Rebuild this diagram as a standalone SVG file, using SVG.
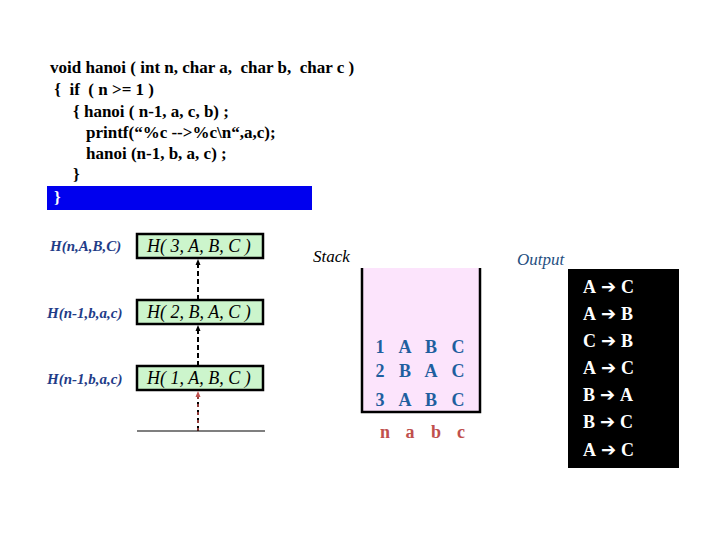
<svg xmlns="http://www.w3.org/2000/svg" width="720" height="540" viewBox="0 0 720 540">
<style>
.code{font-family:"Liberation Serif",serif;font-size:17px;font-weight:bold;fill:#000;white-space:pre}
.lbl{font-family:"Liberation Serif",serif;font-size:15px;font-weight:bold;font-style:italic;fill:#1f3c88}
.box{fill:#ccf5cc;stroke:#000;stroke-width:2.5}
.bt{font-family:"Liberation Serif",serif;font-size:18px;font-style:italic;fill:#000;white-space:pre}
.st{font-family:"Liberation Serif",serif;font-size:18px;font-weight:bold;fill:#1f5f9f;text-anchor:middle}
.rd{font-family:"Liberation Serif",serif;font-size:18px;font-weight:bold;fill:#c0504d;text-anchor:middle}
.out{font-family:"Liberation Serif",serif;font-size:18px;font-weight:bold;fill:#fff}
.arr{font-family:"DejaVu Sans",sans-serif;font-size:18px;font-weight:bold}
.dash{stroke:#000;stroke-width:2;stroke-dasharray:5,3;fill:none}
</style>
<defs>
<marker id="ah" markerUnits="userSpaceOnUse" markerWidth="6" markerHeight="6" refX="5" refY="3" orient="auto"><path d="M0,0.5 L6,3 L0,5.5 z" fill="#000"/></marker>
<marker id="ahr" markerUnits="userSpaceOnUse" markerWidth="6" markerHeight="6" refX="5" refY="3" orient="auto"><path d="M0,0.5 L6,3 L0,5.5 z" fill="#c0504d"/></marker>
</defs>
<g id="code">
<text class="code" x="50" y="73">void hanoi ( int n, char a,  char b,  char c )</text>
<text class="code" x="50" y="95"> {  if  ( n &gt;= 1 )</text>
<text class="code" x="73" y="117">{ hanoi ( n-1, a, c, b) ;</text>
<text class="code" x="86" y="138">printf(“%c --&gt;%c\n“,a,c);</text>
<text class="code" x="86" y="159">hanoi (n-1, b, a, c) ;</text>
<text class="code" x="73" y="180">}</text>
<rect x="47" y="186" width="265" height="24" fill="#0000ee"/>
<text class="code" x="54" y="203" style="fill:#fff">}</text>
</g>
<g id="node1">
<text class="lbl" x="50" y="251">H(n,A,B,C)</text>
<rect class="box" x="137" y="234" width="126" height="24"/>
<text class="bt" x="147" y="252">H( 3, A, B, C )</text>
</g>
<g id="node2">
<text class="lbl" x="47" y="318">H(n-1,b,a,c)</text>
<rect class="box" x="137" y="300" width="126" height="24"/>
<text class="bt" x="147" y="318">H( 2, B, A, C )</text>
</g>
<g id="node3">
<text class="lbl" x="47" y="384">H(n-1,b,a,c)</text>
<rect class="box" x="137" y="366" width="126" height="24"/>
<text class="bt" x="147" y="384">H( 1, A, B, C )</text>
</g>
<g id="connectors">
<line class="dash" x1="198" y1="300" x2="198" y2="260" marker-end="url(#ah)"/>
<line class="dash" x1="198" y1="366" x2="198" y2="326" marker-end="url(#ah)"/>
<line x1="198" y1="431" x2="198" y2="393" stroke="#000" stroke-width="2" stroke-dasharray="5,3"/>
<line x1="198" y1="431" x2="198" y2="392" stroke="#c0504d" stroke-width="1.5" stroke-dasharray="3,5" marker-end="url(#ahr)"/>
<line x1="137" y1="431" x2="265" y2="431" stroke="#000" stroke-width="1.2"/>
</g>
<g id="stack">
<text x="313" y="262" font-family="Liberation Serif, serif" font-size="17" font-style="italic" fill="#000">Stack</text>
<rect x="362" y="268" width="118" height="144" fill="#fce4fc"/>
<path d="M362,268 V412 H480 V268" fill="none" stroke="#000" stroke-width="2.5"/>
<text class="st" y="353"><tspan x="380">1</tspan><tspan x="405">A</tspan><tspan x="431">B</tspan><tspan x="458">C</tspan></text>
<text class="st" y="377"><tspan x="380">2</tspan><tspan x="405">B</tspan><tspan x="431">A</tspan><tspan x="458">C</tspan></text>
<text class="st" y="406"><tspan x="380">3</tspan><tspan x="405">A</tspan><tspan x="431">B</tspan><tspan x="458">C</tspan></text>
<text class="rd" y="438"><tspan x="385">n</tspan><tspan x="410">a</tspan><tspan x="436">b</tspan><tspan x="461">c</tspan></text>
</g>
<g id="output">
<text x="517" y="265" font-family="Liberation Serif, serif" font-size="17" font-style="italic" fill="#1f4f7f">Output</text>
<rect x="568" y="269" width="111" height="199" fill="#000"/>
<text class="out" x="583" y="293">A<tspan class="arr" dx="5">➔</tspan><tspan dx="5">C</tspan></text>
<text class="out" x="583" y="320">A<tspan class="arr" dx="5">➔</tspan><tspan dx="5">B</tspan></text>
<text class="out" x="583" y="347">C<tspan class="arr" dx="5">➔</tspan><tspan dx="5">B</tspan></text>
<text class="out" x="583" y="374">A<tspan class="arr" dx="5">➔</tspan><tspan dx="5">C</tspan></text>
<text class="out" x="583" y="401">B<tspan class="arr" dx="5">➔</tspan><tspan dx="5">A</tspan></text>
<text class="out" x="583" y="428">B<tspan class="arr" dx="5">➔</tspan><tspan dx="5">C</tspan></text>
<text class="out" x="583" y="456">A<tspan class="arr" dx="5">➔</tspan><tspan dx="5">C</tspan></text>
</g>
</svg>
